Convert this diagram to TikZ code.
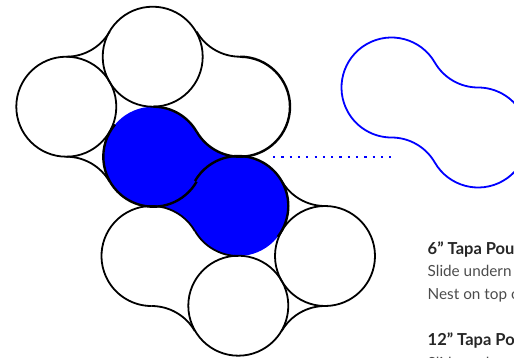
\documentclass[tikz,border=0pt]{standalone}
\usepackage{xcolor}
\usepackage{fontspec}
\setmainfont{Lato}
\usetikzlibrary{positioning}

\definecolor{padblue}{RGB}{0,0,255}
\newcommand{\arcat}[4][pad_line]{\draw[#1] (#2) ++(#3:50) arc[start angle=#3, end angle=#4, radius=50];}

\begin{document}
\begin{tikzpicture}[
    x=1pt, y=1pt,
    pad_line/.style={draw=black, line width=1.8pt},
    pad_heavy/.style={draw=black, line width=2.4pt},
    detail_line/.style={draw=padblue, line width=1.8pt},
    dot_line/.style={draw=padblue, line width=2.2pt, dash pattern=on 2.2pt off 6.1pt},
    note_head/.style={font=\fontsize{16.5}{18}\selectfont\bfseries, text=black!85, inner sep=0pt, anchor=base west},
    note_text/.style={font=\fontsize{15.3}{18}\selectfont, text=black!70, inner sep=0pt, anchor=base west},
]
    \path[clip, use as bounding box] (0,0) rectangle (514,357);

    % lobes of the pads
    \coordinate (leftlobe) at (66.3,250.3);
    \coordinate (toplobe) at (152.7,300.3);
    \coordinate (rightlobe) at (240,250.3);
    \coordinate (blueone) at (153.3,200.3);
    \coordinate (bluetwo) at (238.3,151);
    \coordinate (lowleft) at (151.5,101);
    \coordinate (bottomlobe) at (238.3,51.3);
    \coordinate (lowright) at (325,101);
    % centres of the hollow curves
    \coordinate (gapa) at (66.3,350.3);
    \coordinate (gapb) at (240,350.3);
    \coordinate (gapc) at (66.3,150.3);
    \coordinate (gapd) at (325,201);
    \coordinate (gape) at (325,1);
    \coordinate (gapf) at (151.5,1);
    % detail
    \coordinate (detailc) at (391.5,269.5);
    \coordinate (dotstart) at (273,200.4);
    \coordinate (dotend) at (395,200.4);

    % blue pad
    \fill[padblue] (blueone) circle[radius=50];
    \fill[padblue] (bluetwo) circle[radius=50];
    \fill[padblue] (blueone) -- (rightlobe) -- (bluetwo) -- (lowleft) -- cycle;
    \fill[white] (rightlobe) circle[radius=50];
    \fill[white] (lowleft) circle[radius=50];

    \draw[pad_line] (leftlobe) circle[radius=50];
    \draw[pad_line] (toplobe) circle[radius=50];
    \draw[pad_line] (bottomlobe) circle[radius=50];
    \draw[pad_line] (lowright) circle[radius=50];
    \arcat[pad_heavy]{rightlobe}{90}{-150}
    \arcat{lowleft}{30}{270}
    \arcat{gapa}{270}{330}
    \arcat{gapb}{270}{210}
    \arcat{gapc}{90}{30}
    \arcat{gapd}{270}{210}
    \arcat{gape}{90}{150}
    \arcat{gapf}{90}{30}
    \arcat[pad_heavy]{blueone}{90}{30}
    \arcat[pad_heavy]{blueone}{140}{330}
    \arcat[pad_heavy]{bluetwo}{150}{-38}
    \arcat{bluetwo}{210}{270}

    % outline on the right
    \draw[detail_line] (detailc) ++(30:50) arc[start angle=30, end angle=270, radius=50]
        arc[start angle=90, end angle=30, radius=50]
        arc[start angle=210, end angle=450, radius=50]
        arc[start angle=270, end angle=210, radius=50] -- cycle;
    \draw[dot_line] (dotstart) -- (dotend);

    \node[note_head] (headsix) at (427.5,103) {6” Tapa Pou};
    \node[note_text] (slidesix) at (427.5,80.3) {Slide undern};
    \node[note_text] (nestsix) at (427.5,57.7) {Nest on top o};
    \node[note_head] (headtwelve) at (427.5,11.3) {12” Tapa Po};
    \node[note_text] (slidetwelve) at (427.5,-11) {Slide unde};
\end{tikzpicture}
\end{document}
